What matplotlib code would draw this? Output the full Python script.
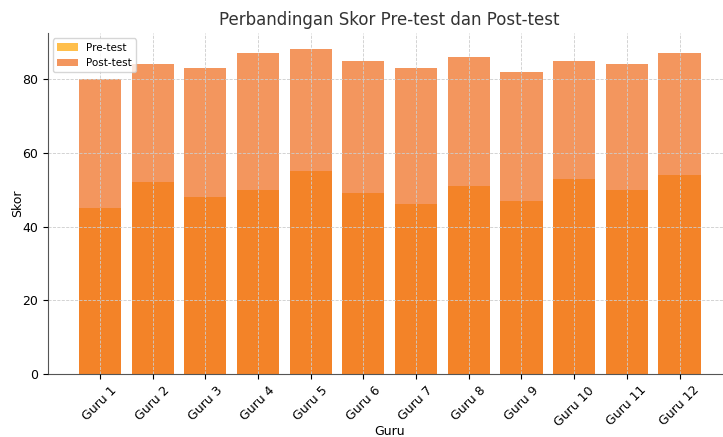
import matplotlib
matplotlib.use("Agg")
import matplotlib.pyplot as plt
import numpy as np

guru = ['Guru 1', 'Guru 2', 'Guru 3', 'Guru 4', 'Guru 5', 'Guru 6',
        'Guru 7', 'Guru 8', 'Guru 9', 'Guru 10', 'Guru 11', 'Guru 12']
pre_test = [45, 52, 48, 50, 55, 49, 46, 51, 47, 53, 50, 54]
post_test = [80, 84, 83, 87, 88, 85, 83, 86, 82, 85, 84, 87]

fig, ax = plt.subplots(figsize=(7.23, 4.37), dpi=100)
fig.subplots_adjust(left=0.066, right=1.012, top=0.924, bottom=0.144)

x = np.arange(len(guru))
ax.bar(x, pre_test, width=0.8, color='orange', alpha=0.7, label='Pre-test')
ax.bar(x, post_test, width=0.8, color='#EE6A1A', alpha=0.7, label='Post-test')

ax.set_xticks(x)
ax.set_xticklabels(guru, rotation=45, fontsize=9)
ax.tick_params(axis='y', labelsize=9)
ax.set_ylim(0, 92.4)
ax.set_yticks([0, 20, 40, 60, 80])

ax.set_title('Perbandingan Skor Pre-test dan Post-test', fontsize=12, color='#333333')
ax.set_xlabel('Guru', fontsize=9)
ax.set_ylabel('Skor', fontsize=9)
ax.xaxis.set_label_coords(0.5, -0.149)
ax.yaxis.set_label_coords(-0.035, 0.5)

ax.grid(True, linestyle='--', color='#cccccc', linewidth=0.6)
ax.set_axisbelow(False)
for s in ['top', 'right']:
    ax.spines[s].set_visible(False)
for s in ['left', 'bottom']:
    ax.spines[s].set_color('#555555')

ax.legend(loc='upper left', fontsize=7.5)

plt.savefig('out.png')
